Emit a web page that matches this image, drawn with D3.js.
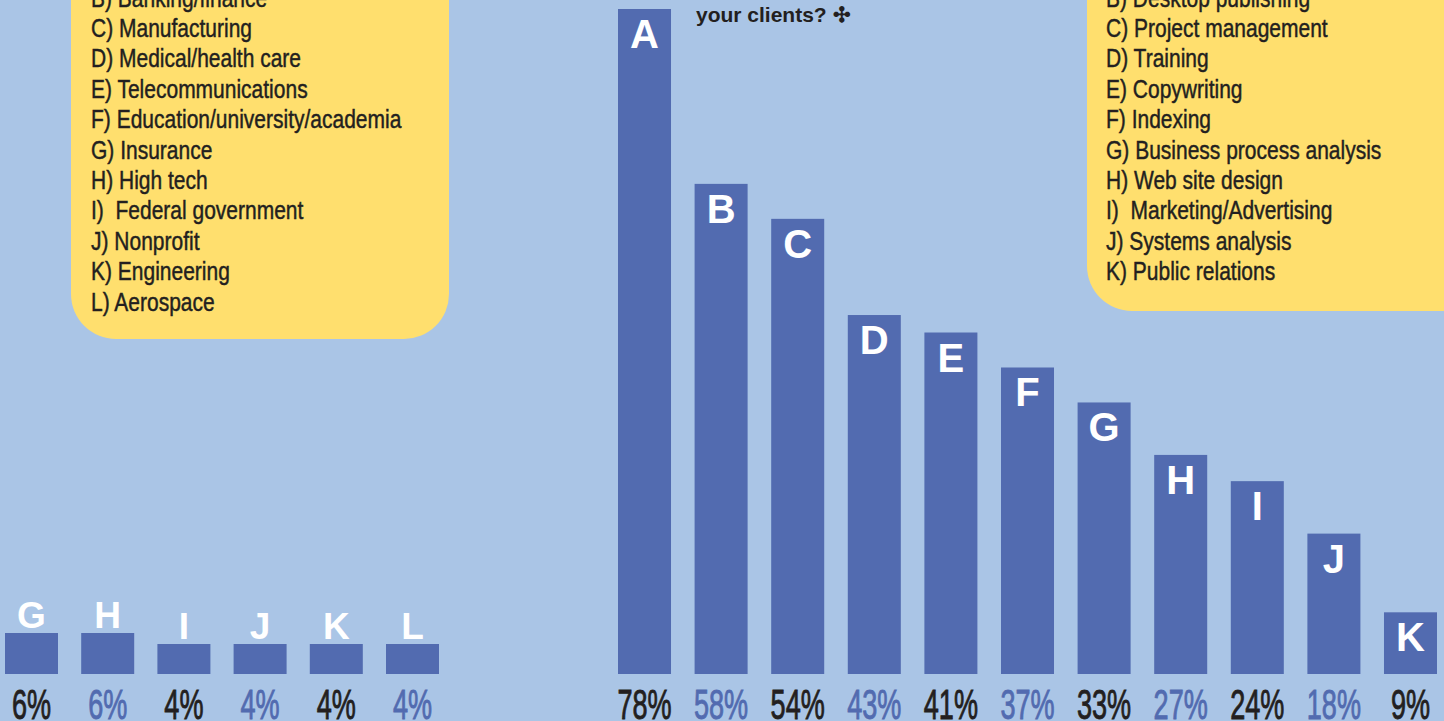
<!DOCTYPE html>
<html>
<head>
<meta charset="utf-8">
<script src="https://cdn.jsdelivr.net/npm/d3@7"></script>
<style>
  html, body { margin: 0; padding: 0; background: #aac5e6; overflow: hidden; }
  svg { display: block; }
</style>
</head>
<body>
<svg id="chart" width="1444" height="721"></svg>
<script>
// ---- Data ----
const leftCategories = ["G", "H", "I", "J", "K", "L"];
const leftValues = [6, 6, 4, 4, 4, 4];
const leftLegend = [
  "B) Banking/finance",
  "C) Manufacturing",
  "D) Medical/health care",
  "E) Telecommunications",
  "F) Education/university/academia",
  "G) Insurance",
  "H) High tech",
  "I)  Federal government",
  "J) Nonprofit",
  "K) Engineering",
  "L) Aerospace"
];

const rightCategories = ["A", "B", "C", "D", "E", "F", "G", "H", "I", "J", "K"];
const rightValues = [78, 58, 54, 43, 41, 37, 33, 27, 24, 18, 9];
const rightLegend = [
  "B) Desktop publishing",
  "C) Project management",
  "D) Training",
  "E) Copywriting",
  "F) Indexing",
  "G) Business process analysis",
  "H) Web site design",
  "I)  Marketing/Advertising",
  "J) Systems analysis",
  "K) Public relations"
];
const titleText = "your clients? \u2723";

// ---- Styles ----
const BG = "#aac5e6", BAR = "#526bb0", YELLOW = "#ffdf6e", DARK = "#231f20";
const SANS = "'Liberation Sans', Arial, Helvetica, sans-serif";

const svg = d3.select("#chart");
svg.append("rect").attr("width", 1444).attr("height", 721).attr("fill", BG);

// rounded-bottom box path helper
function boxPath(x0, y0, x1, y1, r, roundLeft, roundRight) {
  const p = d3.path();
  p.moveTo(x0, y0);
  p.lineTo(x1, y0);
  if (roundRight) { p.lineTo(x1, y1 - r); p.arcTo(x1, y1, x1 - r, y1, r); }
  else p.lineTo(x1, y1);
  if (roundLeft) { p.lineTo(x0 + r, y1); p.arcTo(x0, y1, x0, y1 - r, r); }
  else p.lineTo(x0, y1);
  p.closePath();
  return p.toString();
}

// ---- Legend boxes ----
svg.append("path").attr("d", boxPath(71, -60, 449, 339, 45, true, true)).attr("fill", YELLOW);
svg.append("path").attr("d", boxPath(1087, -60, 1500, 311, 45, true, false)).attr("fill", YELLOW);

const lineY = d3.scaleLinear().domain([1, 2]).range([6.5, 36.9]);

function legend(items, x) {
  svg.append("g").selectAll("text").data(items).join("text")
    .attr("transform", (d, i) => `translate(${x},${lineY(i + 1)}) scale(0.84,1)`)
    .attr("xml:space", "preserve")
    .style("font-family", SANS).style("font-size", "25px")
    .style("fill", DARK).style("stroke", DARK).style("stroke-width", 0.45)
    .text(d => d);
}
legend(leftLegend, 91);
legend(rightLegend, 1106);

// ---- Title fragment ----
svg.append("text").attr("x", 696).attr("y", 22)
  .style("font-family", SANS).style("font-weight", "bold").style("font-size", "21px").style("fill", DARK)
  .text(titleText);

const BASE = 674;

function pctLabels(g, cats, vals, x) {
  g.selectAll("text.pct").data(cats).join("text").attr("class", "pct")
    .attr("transform", d => `translate(${x(d) + x.bandwidth() / 2},718.5) scale(0.63,1)`)
    .attr("text-anchor", "middle")
    .style("font-family", SANS).style("font-size", "43px")
    .style("fill", (d, i) => i % 2 === 0 ? DARK : BAR)
    .style("stroke", (d, i) => i % 2 === 0 ? DARK : BAR)
    .style("stroke-width", 0.9)
    .text((d, i) => vals[i] + "%");
}

// ---- Left bars ----
const xL = d3.scaleBand().domain(leftCategories).range([5, 439]).paddingInner(0.3045).paddingOuter(0);
const yL = d3.scaleLinear().domain([0, 6]).range([666, 633]);
const left = svg.append("g");
left.selectAll("rect").data(leftCategories).join("rect")
  .attr("x", d => xL(d)).attr("width", xL.bandwidth())
  .attr("y", (d, i) => yL(leftValues[i]))
  .attr("height", (d, i) => BASE - yL(leftValues[i]))
  .attr("fill", BAR);
left.selectAll("text.cat").data(leftCategories).join("text").attr("class", "cat")
  .attr("x", d => xL(d) + xL.bandwidth() / 2)
  .attr("y", (d, i) => yL(leftValues[i]) - 5.5)
  .attr("text-anchor", "middle")
  .style("font-family", SANS).style("font-weight", "bold").style("font-size", "37px").style("fill", "#fff")
  .text(d => d);
pctLabels(left, leftCategories, leftValues, xL);

// ---- Right bars ----
const xR = d3.scaleBand().domain(rightCategories).range([618, 1437]).paddingInner(0.308).paddingOuter(0);
const yR = d3.scaleLinear().domain([0, 78]).range([691, 9]);
const right = svg.append("g");
right.selectAll("rect").data(rightCategories).join("rect")
  .attr("x", d => xR(d)).attr("width", xR.bandwidth())
  .attr("y", (d, i) => yR(rightValues[i]))
  .attr("height", (d, i) => BASE - yR(rightValues[i]))
  .attr("fill", BAR);
right.selectAll("text.cat").data(rightCategories).join("text").attr("class", "cat")
  .attr("x", d => xR(d) + xR.bandwidth() / 2)
  .attr("y", (d, i) => yR(rightValues[i]) + 39)
  .attr("text-anchor", "middle")
  .style("font-family", SANS).style("font-weight", "bold").style("font-size", "40px").style("fill", "#fff")
  .text(d => d);
pctLabels(right, rightCategories, rightValues, xR);
</script>
</body>
</html>
